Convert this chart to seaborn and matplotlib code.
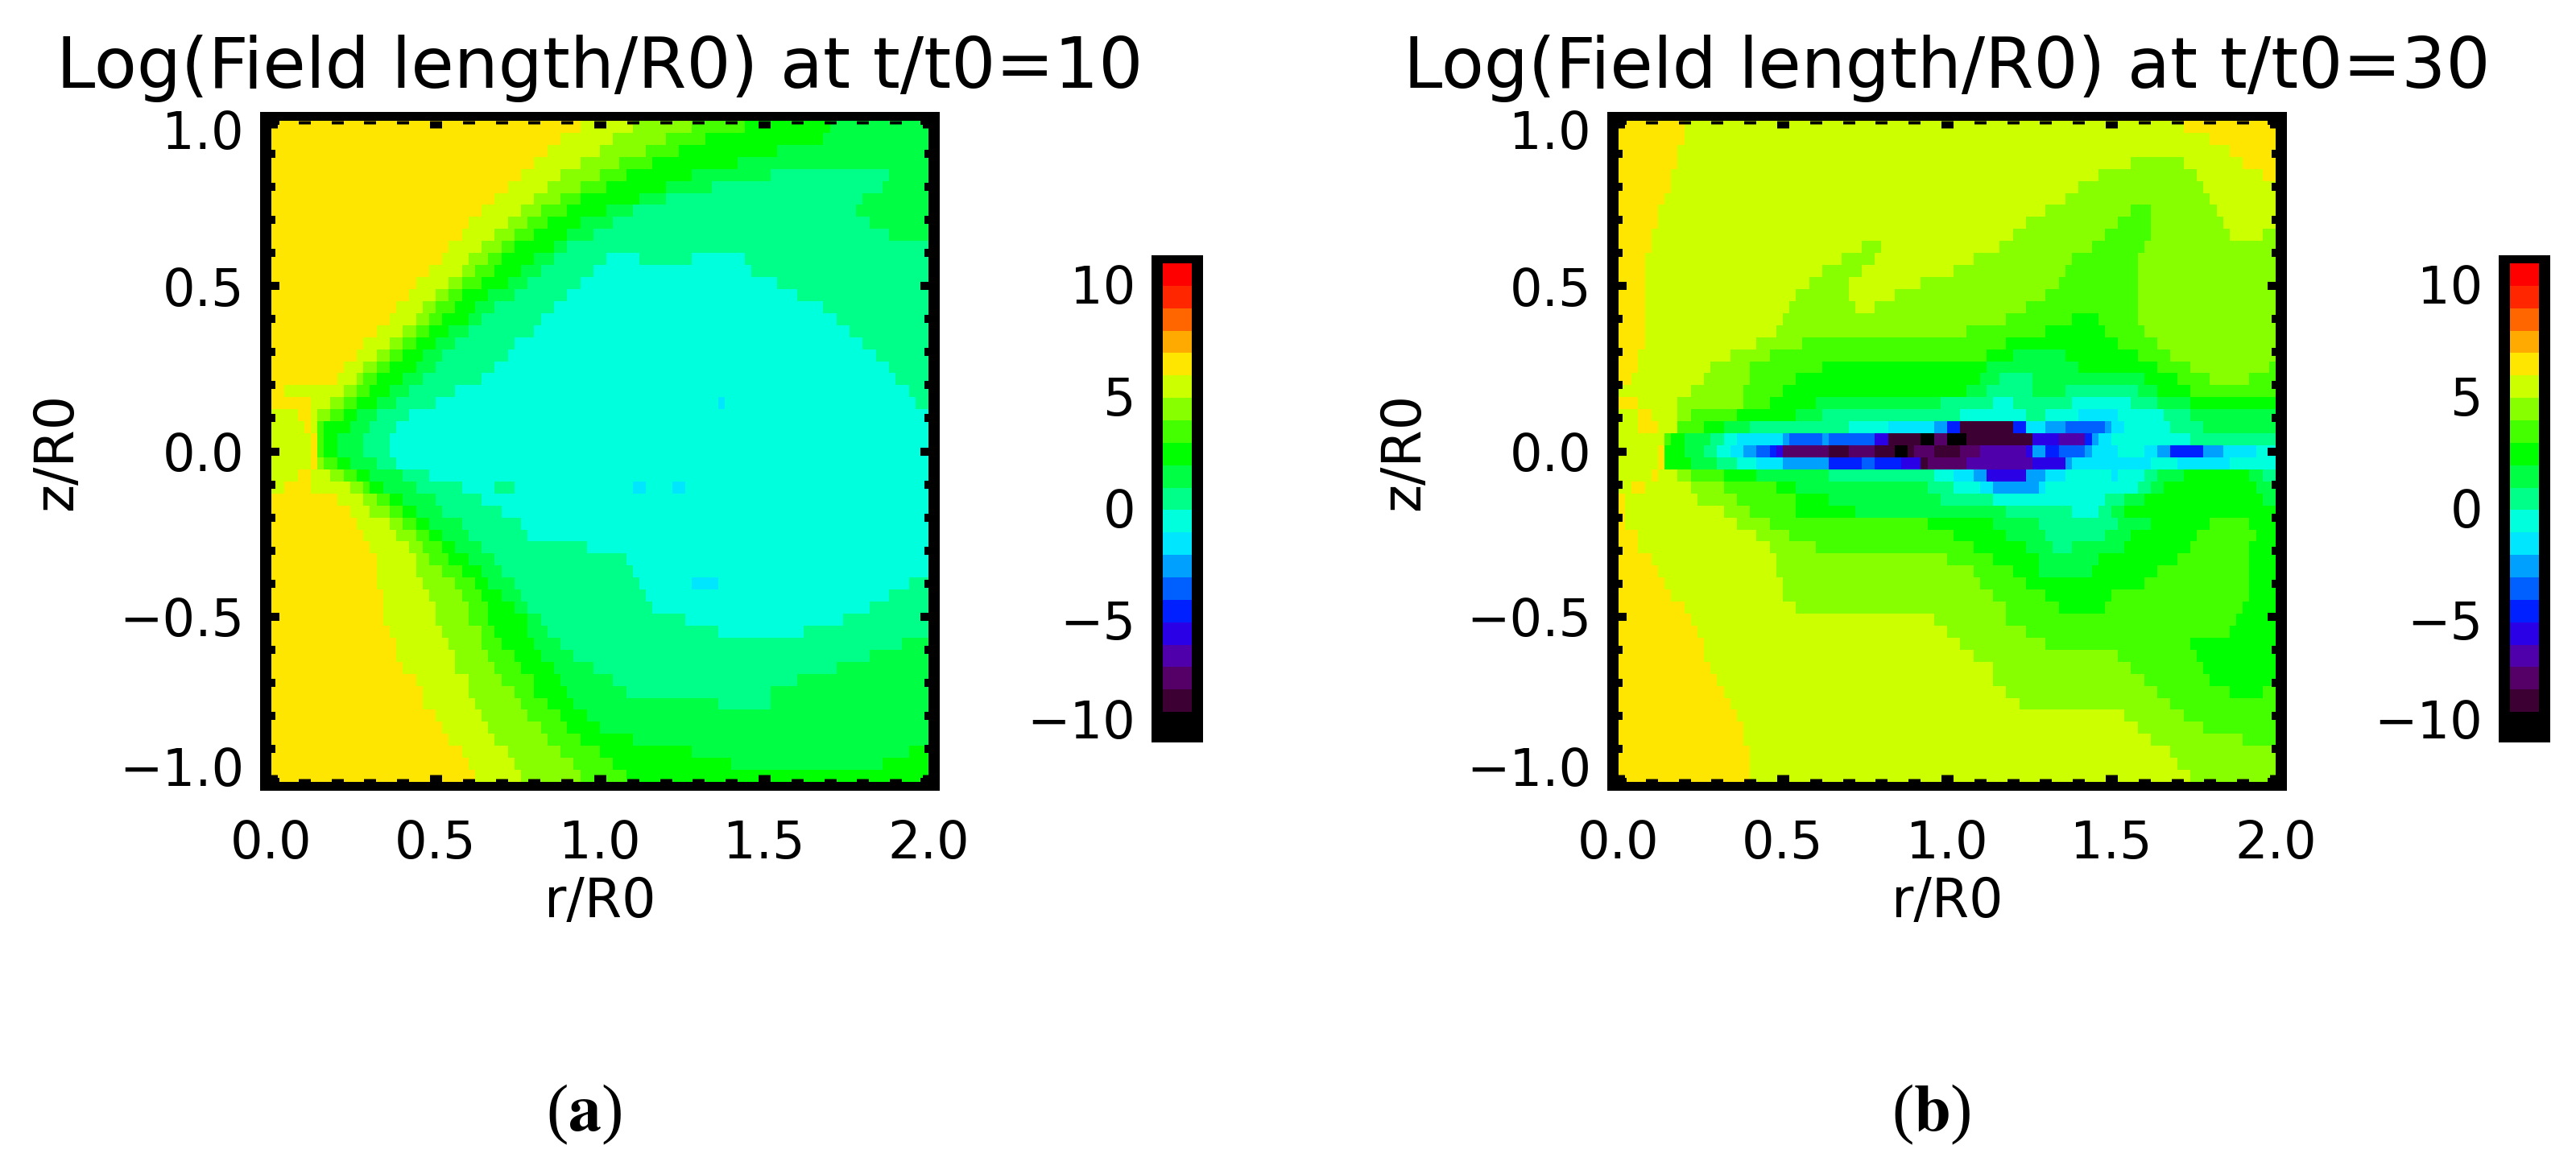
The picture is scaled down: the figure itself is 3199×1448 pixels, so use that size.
import numpy as np
import pandas as pd
import matplotlib
matplotlib.use('Agg')
import matplotlib.pyplot as plt
from matplotlib.colors import ListedColormap
from matplotlib.transforms import ScaledTranslation
import seaborn as sns

FIG_W, FIG_H = 3199, 1448
N_COLS = 100

# colour table, bottom of the colour bar first
band_names = list('NKXWVUBADCTSPHGLYOQEF')
band_colors = ['#000000', '#3C0033', '#550066', '#5000AA', '#2A00E6', '#0020FF', '#0060FF',
               '#00A0FF', '#00E6FF', '#00FFDD', '#00FF88', '#00FF44', '#00FF00', '#44FF00',
               '#88FF00', '#CCFF00', '#FFE600', '#FFAA00', '#FF6600', '#FF2600', '#FF0000']
cbar_min = -10.1
cbar_max = 10.9

r_ticks = [0.0, 0.5, 1.0, 1.5, 2.0]
r_labels = ['0.0', '0.5', '1.0', '1.5', '2.0']
z_ticks = [1.0, 0.5, 0.0, -0.5, -1.0]
z_labels = ['1.0', '0.5', '0.0', '\u22120.5', '\u22121.0']
cbar_ticks = [10, 5, 0, -5, -9.4]
cbar_labels = ['10', '5', '0', '\u22125', '\u221210']
titles = ['Log(Field length/R0) at t/t0=10', 'Log(Field length/R0) at t/t0=30']
captions = [r'($\mathbf{a}$)', r'($\mathbf{b}$)']

# each row runs from z=1 down to z=-1, "Y47" = band Y up to column 47
field_t10 = [
    'Y47 L55 G64 H72 P85 S100',
    'Y44 L52 G60 H66 P84 S100',
    'Y42 L50 G57 H62 P77 S100',
    'Y40 L47 G53 H58 P71 S100',
    'Y38 L44 G50 H54 P64 S76 T94 S100',
    'Y36 L42 G47 H51 P60 S67 T93 S100',
    'Y34 L40 G44 H47 P56 S60 T90 S100',
    'Y32 L38 G41 H45 P51 S55 T89 S100',
    'Y30 L36 G39 H42 P47 S52 T91 S100',
    'Y29 L34 G37 H40 P45 S49 T94 S100',
    'Y27 L32 G35 H37 P43 S45 T100',
    'Y26 L30 G33 H35 P40 S43 T51 C56 T64 C72 T100',
    'Y24 L29 G31 H34 P38 S41 T49 C73 T100',
    'Y22 L27 G29 H32 P36 S39 T47 C77 T100',
    'Y21 L25 G27 H29 P33 S37 T45 C80 T100',
    'Y19 L23 G25 H28 P31 S34 T43 C84 T100',
    'Y18 L22 G24 H26 P30 S32 T41 C86 T100',
    'Y16 L20 G22 H24 P27 S30 T40 C88 T100',
    'Y14 L18 G20 H22 P25 S28 T37 C90 T100',
    'Y13 L16 G18 H20 P23 S26 T36 C92 T100',
    'Y11 L14 G16 H18 P22 S25 T34 C94 T100',
    'Y10 L13 G14 H16 P20 S23 T32 C95 T100',
    'Y2 L11 G13 H15 P18 S21 T28 C97 T100',
    'Y6 L9 G11 H13 P16 S19 T25 C68 D69 C98 T100',
    'L4 Y6 L7 G9 H11 P13 S16 T21 C100',
    'L5 Y6 L7 H8 P12 S15 T19 C100',
    'L6 Y7 H8 P10 S14 T18 C100',
    'L6 Y7 H8 P10 S14 T18 C100',
    'L6 Y7 G8 H10 P12 S16 T19 C100',
    'L4 Y6 L9 G11 H13 P15 S20 T24 C100',
    'L2 Y6 L12 G14 H15 P17 S22 T29 C34 T37 C55 D57 C61 D63 C100',
    'Y10 L14 G16 H18 P20 S25 T32 C100',
    'Y12 L15 G18 H20 P22 S26 T35 C100',
    'Y13 L18 G20 H22 P24 S29 T38 C100',
    'Y14 L19 G22 H24 P26 S30 T39 C100',
    'Y15 L21 G23 H26 P28 S32 T48 C100',
    'Y16 L22 G24 H27 P30 S34 T54 C100',
    'Y16 L22 G26 H29 P32 S35 T55 C100',
    'Y16 L23 G28 H31 P33 S37 T56 C64 D68 C97 T100',
    'Y17 L24 G29 H32 P35 S38 T57 C94 T100',
    'Y17 L25 G30 H33 P37 S39 T58 C91 T100',
    'Y17 L25 G30 H33 P39 S41 T63 C87 T100',
    'Y18 L26 G32 H34 P39 S42 T68 C81 T100',
    'Y19 L27 G32 H35 P40 S44 T96 S100',
    'Y19 L28 G33 H37 P41 S46 T91 S100',
    'Y20 L28 G34 H38 P43 S49 T86 S100',
    'Y22 L30 G35 H40 P44 S52 T80 S100',
    'Y23 L30 G37 H40 P45 S54 T76 S100',
    'Y23 L31 G38 H42 P46 S68 T76 S100',
    'Y25 L32 G39 H44 P48 S100',
    'Y26 L33 G41 H45 P50 S100',
    'Y27 L34 G42 H47 P55 S100',
    'Y29 L36 G44 H50 P64 S97 P100',
    'Y30 L37 G46 H52 P70 S93 P100',
    'Y31 L38 G47 H54 P100',
]

field_t30 = [
    'Y10 L86 Y100',
    'Y10 L90 Y100',
    'Y9 L93 Y100',
    'Y9 L78 G86 L95 Y100',
    'Y8 L73 G88 L98 Y100',
    'Y8 L70 G89 L100',
    'Y7 L68 G90 L100',
    'Y6 L65 G78 H81 G91 L100',
    'Y6 L62 G76 H81 G92 L100',
    'Y5 L60 G74 H81 G93 L98 G100',
    'Y5 L37 G40 L58 G72 H80 G100',
    'Y4 L34 G39 L54 G69 H79 G100',
    'Y4 L31 G37 L51 G68 H79 G100',
    'Y4 L29 G35 L46 G67 H79 G100',
    'Y4 L27 G35 L42 G65 H79 G100',
    'Y4 L26 G36 L39 G62 H79 G100',
    'Y4 L25 G59 H69 P73 H79 G100',
    'Y4 L24 G53 H65 P74 H80 G100',
    'Y4 L21 G28 H59 P76 H82 G100',
    'Y3 L17 G23 H56 P60 S68 P79 H84 G100',
    'Y3 L14 G20 H31 P56 S70 P82 H87 G99 H100',
    'Y2 L13 G20 H27 P55 S58 T63 S80 P85 H90 G96 H100',
    'L11 G19 H25 P53 S56 T63 S68 T79 S82 P87 H100',
    'Y3 L9 G19 H23 P30 S49 T57 C60 T69 C78 T82 S87 P100',
    'L3 Y5 L9 G11 H18 P27 S31 T52 C62 T65 C70 D76 C83 T87 S100',
    'L3 Y6 L9 H13 P16 S20 T35 C41 D48 A50 U52 K60 U62 D65 A68 B74 A75 D77 C84 T89 S100',
    'L7 H8 P10 S14 T16 C18 D25 A26 B31 A32 B39 V41 K46 N48 X50 N53 K63 V67 W71 U72 A73 D75 C87 T100',
    'L6 Y7 P10 S13 T15 C17 D19 A21 B23 U24 V25 X32 K35 X39 K42 N44 K45 X48 K52 X55 W62 V63 A65 U67 B71 A72 D76 C80 D82 A84 U89 A92 D97 C100',
    'L6 Y7 P11 S15 T18 C21 D25 A32 U37 B39 U43 V46 K47 X53 W63 V68 A69 D81 C85 D93 C100',
    'L5 Y6 L9 G11 H16 P21 S32 T48 C51 D54 A56 V62 A65 D68 C75 D76 C80 T82 S86 P96 S98 T100',
    'L2 Y4 L11 G16 H24 P27 S47 T51 C55 D57 A64 D65 C79 T81 S83 P97 S100',
    'Y1 L12 G18 H27 P32 S49 T57 C74 T77 S80 P98 S100',
    'Y1 L16 G20 H27 P36 S59 T69 C73 T75 S77 P100',
    'Y1 L18 G23 H47 P57 S64 T76 S81 P90 H96 P100',
    'Y3 L21 G26 H51 P59 S65 T74 S78 P88 H97 P100',
    'Y3 L23 G30 H54 P62 S66 T69 S77 P87 H96 P100',
    'Y5 L24 G50 H57 P64 S73 P85 H96 P100',
    'Y6 L24 G54 H60 P64 S72 P82 H96 P100',
    'Y7 L25 G55 H62 P80 H96 P100',
    'Y8 L25 G57 H65 P75 H96 P100',
    'Y10 L27 G59 H67 P74 H95 P100',
    'Y11 L48 G59 H94 P100',
    'Y12 L50 G62 H93 P100',
    'Y13 L52 G65 H87 P100',
    'Y13 L54 G76 H88 P100',
    'Y14 L57 G78 H89 P100',
    'Y15 L57 G80 H90 P100',
    'Y16 L59 G82 H93 P98 H100',
    'Y17 L61 G84 H100',
    'Y18 L77 G86 H100',
    'Y19 L79 G89 H100',
    'Y19 L81 G95 H100',
    'Y20 L84 G100',
    'Y20 L85 G100',
    'Y20 L87 G100',
]


def px_rect(left, top, right, bottom):
    return [left / FIG_W, 1 - bottom / FIG_H, (right - left) / FIG_W, (bottom - top) / FIG_H]


def black_frame(fig, left, top, right, bottom):
    x, y, w, h = px_rect(left, top, right, bottom)
    fig.add_artist(plt.Rectangle((x, y), w, h, transform=fig.transFigure,
                                 facecolor='black', edgecolor='none', zorder=-1))


def rows_to_frame(rows):
    level = {name: cbar_min + i + 0.5 for i, name in enumerate(band_names)}
    table = []
    for row in rows:
        cells = []
        for run in row.split():
            cells += [level[run[0]]] * (int(run[1:]) - len(cells))
        table.append(cells)
    return pd.DataFrame(np.array(table))


def draw_panel(fig, rows, title, caption, dx):
    field = rows_to_frame(rows)
    n_rows = len(rows)

    black_frame(fig, 323 + dx, 139, 1167 + dx, 982)
    ax = fig.add_axes(px_rect(337 + dx, 150, 1153 + dx, 971))
    black_frame(fig, 1430 + dx, 317, 1494 + dx, 922)
    cax = fig.add_axes(px_rect(1444 + dx, 327, 1480 + dx, 912))

    sns.heatmap(field, ax=ax, cbar_ax=cax, cmap=ListedColormap(band_colors),
                vmin=cbar_min, vmax=cbar_max, xticklabels=False, yticklabels=False,
                cbar_kws={'ticks': cbar_ticks})

    # axes ticks, the heatmap counts in cells
    ax.set_axisbelow(False)
    ax.set_xticks([r / 2 * N_COLS for r in r_ticks], r_labels)
    ax.set_yticks([(1 - z) / 2 * n_rows for z in z_ticks], z_labels, rotation=0)
    ax.set_xticks(np.arange(0, 21) / 20 * N_COLS, minor=True)
    ax.set_yticks(np.arange(0, 21) / 20 * n_rows, minor=True)
    ax.tick_params(axis='both', which='both', color='black', direction='in')
    ax.tick_params(axis='x', which='major', length=6.5, width=10.8,
                   top=True, bottom=True, pad=33, labelsize=46)
    ax.tick_params(axis='x', which='minor', length=3, width=10.8,
                   top=True, bottom=True)
    ax.tick_params(axis='y', which='major', length=7.2, width=7.2,
                   left=True, right=True, pad=24.5, labelsize=46)
    ax.tick_params(axis='y', which='minor', length=3.6, width=7.2,
                   left=True, right=True)

    # end labels sit inside the axis range in the original
    labels = ax.get_yticklabels()
    labels[0].set_transform(labels[0].get_transform() + ScaledTranslation(0, -11 / 100, fig.dpi_scale_trans))
    labels[-1].set_transform(labels[-1].get_transform() + ScaledTranslation(0, 19 / 100, fig.dpi_scale_trans))

    ax.set_title(title, fontsize=62.5, pad=29.5)
    ax.set_xlabel('r/R0', fontsize=48, va='center')
    ax.xaxis.set_label_coords(0.5, -(1120 - 971) / 821)
    ax.set_ylabel('z/R0', fontsize=48, va='center')
    ax.yaxis.set_label_coords(-(337 - 70) / 816, 1 - (561 - 150) / 821)

    cax.yaxis.set_ticks_position('left')
    cax.tick_params(axis='y', length=0, pad=24.5, labelsize=46)
    cax.set_yticklabels(cbar_labels)

    fig.text((725 + dx) / FIG_W, 1 - 1384 / FIG_H, caption, fontsize=59, ha='center', va='center',
             family='Liberation Serif')


sns.set_theme(style='white')
plt.rcParams['font.family'] = ['DejaVu Sans']
plt.rcParams['mathtext.fontset'] = 'stix'
plt.rcParams['text.color'] = 'black'
plt.rcParams['axes.labelcolor'] = 'black'
plt.rcParams['xtick.labelcolor'] = 'black'
plt.rcParams['ytick.labelcolor'] = 'black'

fig = plt.figure(figsize=(FIG_W / 100, FIG_H / 100), dpi=100)
draw_panel(fig, field_t10, titles[0], captions[0], 0)
draw_panel(fig, field_t30, titles[1], captions[1], 1673)
fig.savefig('out.png', dpi=100)
plt.close(fig)
